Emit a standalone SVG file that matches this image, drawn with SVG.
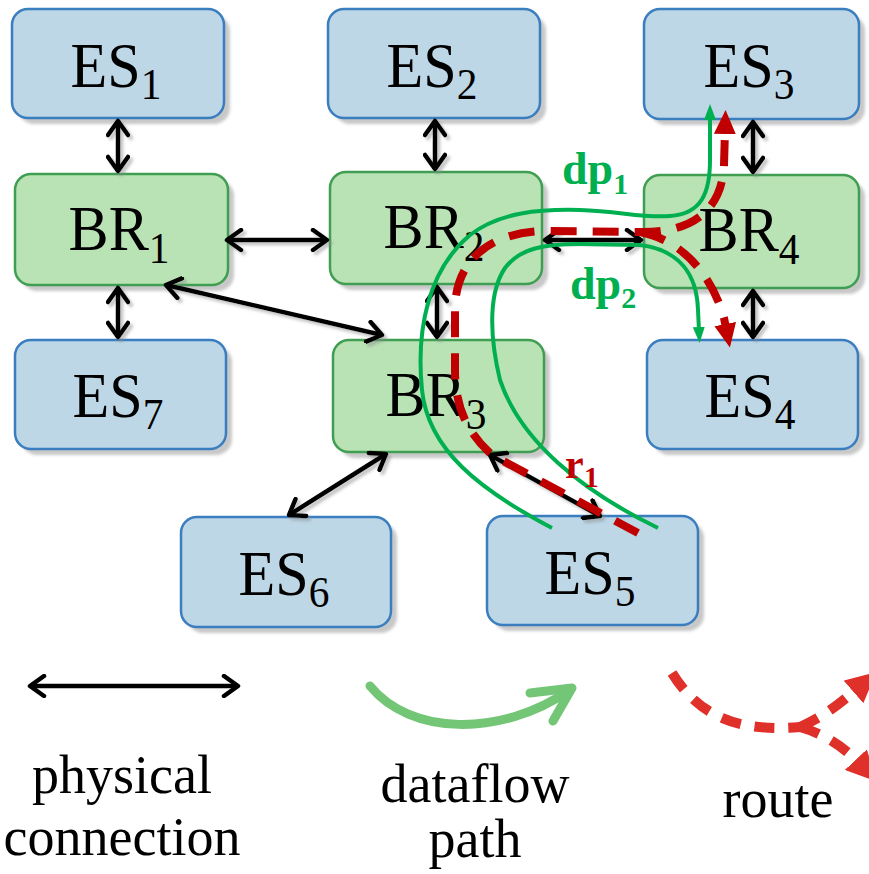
<svg xmlns="http://www.w3.org/2000/svg" width="869" height="874" viewBox="0 0 869 874">
  <style>
    .es rect.box { fill: #BDD7E7; stroke: #3B7EBF; stroke-width: 2.5; }
    .br rect.box { fill: #B9E3B4; stroke: #3F9E52; stroke-width: 2.5; }
    rect.shadow { fill: #c8c8c8; filter: url(#soft); }
    .lbl { font-family: "Liberation Serif", "Times New Roman", serif; font-size: 64px; fill: #000; text-anchor: middle; }
    .sub { font-size: 44px; }
    .link { stroke: #000; stroke-width: 4.5; fill: none; marker-start: url(#chev); marker-end: url(#chev); }
    .route { stroke: #C00000; stroke-width: 8; fill: none; stroke-dasharray: 26 16; }
    .flow { stroke: #00B050; stroke-width: 4; fill: none; marker-end: url(#gtri); }
    .tag { font-family: "Liberation Serif", "Times New Roman", serif; font-weight: bold; }
    .legend { font-family: "Liberation Serif", "Times New Roman", serif; font-size: 54px; fill: #000; text-anchor: middle; }
  </style>
  <defs>
    <filter id="soft" x="-10%" y="-10%" width="120%" height="120%">
      <feGaussianBlur stdDeviation="1.5"/>
    </filter>
    <filter id="lshadow" x="-20%" y="-20%" width="140%" height="140%">
      <feDropShadow dx="3" dy="3" stdDeviation="1.5" flood-color="#888" flood-opacity="0.5"/>
    </filter>
    <!-- open chevron head for physical links -->
    <marker id="chev" viewBox="0 0 20 24" refX="17" refY="12" markerWidth="20" markerHeight="24" markerUnits="userSpaceOnUse" orient="auto-start-reverse">
      <path d="M3,2 L17,12 L3,22" fill="none" stroke="#000" stroke-width="4.5" stroke-linecap="round" stroke-linejoin="round"/>
    </marker>
    <!-- filled heads for routes and dataflow paths -->
    <marker id="rtri" viewBox="0 0 24 24" refX="4" refY="12" markerWidth="24" markerHeight="24" markerUnits="userSpaceOnUse" orient="auto">
      <path d="M0,1 L24,12 L0,23 Z" fill="#C00000"/>
    </marker>
    <marker id="gtri" viewBox="0 0 16 12" refX="4" refY="6" markerWidth="16" markerHeight="12" markerUnits="userSpaceOnUse" orient="auto">
      <path d="M0,0 L16,6 L0,12 Z" fill="#00B050"/>
    </marker>
    <marker id="ltri" viewBox="0 0 30 30" refX="6" refY="15" markerWidth="30" markerHeight="30" markerUnits="userSpaceOnUse" orient="auto">
      <path d="M0,0 L30,15 L0,30 Z" fill="#E0302A"/>
    </marker>
  </defs>

  <!-- end stations -->
  <g id="ES1" class="es">
    <rect class="shadow" x="18" y="15" width="212" height="109" rx="16"/>
    <rect class="box" x="12" y="9" width="212" height="109" rx="16"/>
    <text class="lbl" transform="translate(116,87) scale(0.94,1)">ES<tspan class="sub" dy="12">1</tspan></text>
  </g>
  <g id="ES2" class="es">
    <rect class="shadow" x="334" y="15" width="212" height="109" rx="16"/>
    <rect class="box" x="328" y="9" width="212" height="109" rx="16"/>
    <text class="lbl" transform="translate(432,87) scale(0.94,1)">ES<tspan class="sub" dy="12">2</tspan></text>
  </g>
  <g id="ES3" class="es">
    <rect class="shadow" x="650" y="15" width="215" height="110" rx="16"/>
    <rect class="box" x="644" y="9" width="215" height="110" rx="16"/>
    <text class="lbl" transform="translate(749,87) scale(0.94,1)">ES<tspan class="sub" dy="12">3</tspan></text>
  </g>
  <g id="ES7" class="es">
    <rect class="shadow" x="21" y="346" width="211" height="109" rx="16"/>
    <rect class="box" x="15" y="340" width="211" height="109" rx="16"/>
    <text class="lbl" transform="translate(118,417) scale(0.94,1)">ES<tspan class="sub" dy="12">7</tspan></text>
  </g>
  <g id="ES4" class="es">
    <rect class="shadow" x="653" y="346" width="211" height="109" rx="16"/>
    <rect class="box" x="647" y="340" width="211" height="109" rx="16"/>
    <text class="lbl" transform="translate(750,417) scale(0.94,1)">ES<tspan class="sub" dy="12">4</tspan></text>
  </g>
  <g id="ES6" class="es">
    <rect class="shadow" x="187" y="523" width="210" height="110" rx="16"/>
    <rect class="box" x="181" y="517" width="210" height="110" rx="16"/>
    <text class="lbl" transform="translate(284,595) scale(0.94,1)">ES<tspan class="sub" dy="12">6</tspan></text>
  </g>
  <g id="ES5" class="es">
    <rect class="shadow" x="493" y="522" width="211" height="109" rx="16"/>
    <rect class="box" x="487" y="516" width="211" height="109" rx="16"/>
    <text class="lbl" transform="translate(590,594) scale(0.94,1)">ES<tspan class="sub" dy="12">5</tspan></text>
  </g>

  <!-- bridges -->
  <g id="BR1" class="br">
    <rect class="shadow" x="21" y="180" width="213" height="111" rx="16"/>
    <rect class="box" x="15" y="174" width="213" height="111" rx="16"/>
    <text class="lbl" transform="translate(119,250) scale(0.94,1)">BR<tspan class="sub" dy="13">1</tspan></text>
  </g>
  <g id="BR2" class="br">
    <rect class="shadow" x="336" y="178" width="212" height="112" rx="16"/>
    <rect class="box" x="330" y="172" width="212" height="112" rx="16"/>
    <text class="lbl" transform="translate(434,248) scale(0.94,1)">BR<tspan class="sub" dy="13">2</tspan></text>
  </g>
  <g id="BR3" class="br">
    <rect class="shadow" x="339" y="346" width="211" height="112" rx="16"/>
    <rect class="box" x="333" y="340" width="211" height="112" rx="16"/>
    <text class="lbl" transform="translate(436,416) scale(0.94,1)">BR<tspan class="sub" dy="13">3</tspan></text>
  </g>
  <g id="BR4" class="br">
    <rect class="shadow" x="650" y="181" width="215" height="113" rx="16"/>
    <rect class="box" x="644" y="175" width="215" height="113" rx="16"/>
    <text class="lbl" transform="translate(749,251) scale(0.94,1)">BR<tspan class="sub" dy="13">4</tspan></text>
  </g>

  <!-- physical links -->
  <g id="connectors" filter="url(#lshadow)">
    <line class="link" x1="118" y1="121" x2="118" y2="171"/>
    <line class="link" x1="435" y1="121" x2="435" y2="169"/>
    <line class="link" x1="753" y1="122" x2="753" y2="172"/>
    <line class="link" x1="118" y1="288" x2="118" y2="337"/>
    <line class="link" x1="437" y1="287" x2="437" y2="337"/>
    <line class="link" x1="753" y1="291" x2="753" y2="337"/>
    <line class="link" x1="227" y1="240" x2="327" y2="240"/>
    <line class="link" x1="545" y1="240" x2="641" y2="240"/>
    <line class="link" x1="166" y1="285" x2="382" y2="335"/>
    <line class="link" x1="386" y1="454" x2="289" y2="515"/>
    <line class="link" x1="490" y1="455" x2="600" y2="516"/>
  </g>

  <!-- route r1 -->
  <g id="route-r1">
    <path class="route" d="M638,533 L492,455 C466,432 455,405 455,370 L455,310 C455,262 488,232 545,231 L640,232 C690,233 722,212 724,165 L725,130" marker-end="url(#rtri)"/>
    <path class="route" d="M640,232 C682,240 712,275 724,318 L726,328" marker-end="url(#rtri)"/>
  </g>

  <!-- dataflow paths -->
  <g id="dataflow">
    <path class="flow" d="M552,528 C480,490 428,450 422,390 C416,330 428,270 470,235 C500,212 540,209 580,210 C620,211 640,218 670,216 C702,214 710,192 710,160 L710,116"/>
    <path class="flow" d="M658,528 C580,490 520,440 500,380 C488,330 490,290 505,268 C520,248 545,244 580,244 L640,245 C680,250 697,275 698,310 L699,331"/>
  </g>

  <!-- path labels -->
  <g id="labels">
    <text class="tag" x="562" y="184" font-size="46" fill="#00B050">dp<tspan font-size="30" dy="10">1</tspan></text>
    <text class="tag" x="570" y="299" font-size="46" fill="#00B050">dp<tspan font-size="30" dy="9">2</tspan></text>
    <text class="tag" x="565" y="478" font-size="42" fill="#C00000">r<tspan font-size="30" dy="9">1</tspan></text>
  </g>

  <!-- legend -->
  <g id="legend">
    <line class="link" x1="30" y1="686" x2="238" y2="686"/>
    <text class="legend" x="122" y="793">physical</text>
    <text class="legend" x="122" y="855">connection</text>

    <path d="M370,686 C410,735 500,738 570,690" fill="none" stroke="#74C677" stroke-width="9" stroke-linecap="round"/>
    <path d="M530,693 L572,688 L553,721" fill="none" stroke="#74C677" stroke-width="9" stroke-linecap="round" stroke-linejoin="round"/>
    <text class="legend" x="475" y="802">dataflow</text>
    <text class="legend" x="475" y="857">path</text>

    <path d="M672,673 C700,718 740,732 800,727" fill="none" stroke="#E0302A" stroke-width="10" stroke-dasharray="20 14"/>
    <path d="M800,727 C825,716 842,702 858,688" fill="none" stroke="#E0302A" stroke-width="10" stroke-dasharray="20 14" marker-end="url(#ltri)"/>
    <path d="M800,727 C825,734 845,748 860,764" fill="none" stroke="#E0302A" stroke-width="10" stroke-dasharray="20 14" marker-end="url(#ltri)"/>
    <text class="legend" x="778" y="817">route</text>
  </g>
</svg>
